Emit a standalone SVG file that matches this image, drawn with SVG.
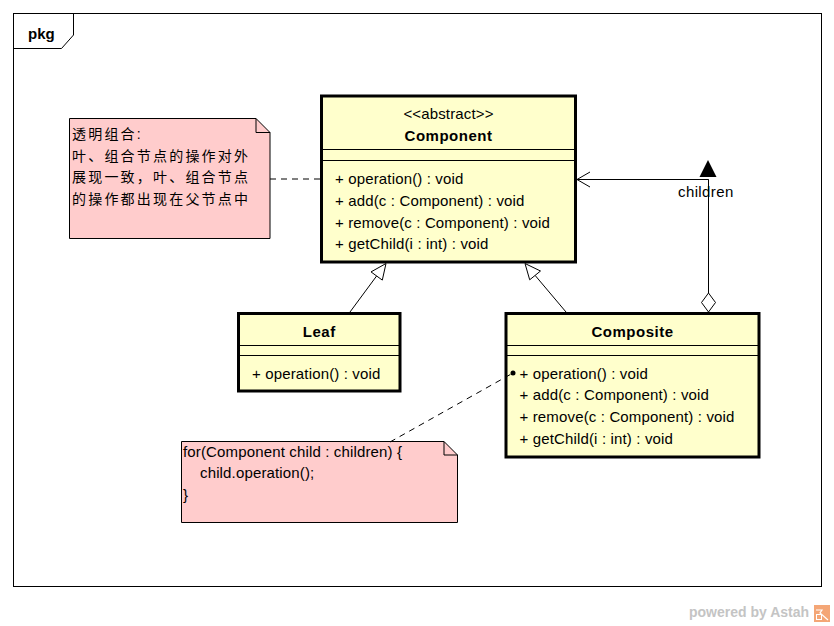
<svg xmlns="http://www.w3.org/2000/svg" width="834" height="626" viewBox="0 0 834 626">
<style>
  .cls { fill: #FFFFCC; stroke: #000; stroke-width: 3; }
  .sep { stroke: #000; stroke-width: 1; fill: none; }
  .note { fill: #FFCCCC; stroke: #000; stroke-width: 1; }
  .t { font-family: "Liberation Sans", Arial, sans-serif; font-size: 15px; fill: #000; letter-spacing: 0.15px; }
  .b { font-family: "Liberation Sans", Arial, sans-serif; font-size: 15px; font-weight: bold; fill: #000; letter-spacing: 0.5px; }
  .cjk { font-family: "Liberation Sans", "Noto Sans CJK SC", sans-serif; font-size: 14px; fill: #000; letter-spacing: 2.2px; }
  .line { stroke: #000; stroke-width: 1; fill: none; }
  .dash { stroke: #000; stroke-width: 1; fill: none; stroke-dasharray: 6 5; }
</style>
<rect width="834" height="626" fill="#fff"/>
<g id="frame">
  <rect x="13.5" y="13.5" width="808" height="573" fill="none" stroke="#000" stroke-width="1"/>
  <polyline points="13.5,48.5 61.5,48.5 73.5,35 73.5,13.5" fill="none" stroke="#000" stroke-width="1"/>
  <text x="28" y="38.5" class="b" style="letter-spacing:0">pkg</text>
</g>
<g id="note1">
  <polygon class="note" points="69.5,118.5 256,118.5 270,132.5 270,238.5 69.5,238.5"/>
  <polyline class="sep" points="256,118.5 256,132.5 270,132.5"/>
  <text class="cjk" x="72" y="138.5">透明组合:</text>
  <text class="cjk" x="72" y="160.5">叶、组合节点的操作对外</text>
  <text class="cjk" x="72" y="182">展现一致，叶、组合节点</text>
  <text class="cjk" x="72" y="203.5">的操作都出现在父节点中</text>
</g>
<g id="component">
  <rect class="cls" x="321.5" y="96" width="254" height="166"/>
  <line class="sep" x1="321.5" y1="149.5" x2="575.5" y2="149.5"/>
  <line class="sep" x1="321.5" y1="160.5" x2="575.5" y2="160.5"/>
  <text class="t" x="448.5" y="119" text-anchor="middle">&lt;&lt;abstract&gt;&gt;</text>
  <text class="b" x="448.5" y="140.5" text-anchor="middle">Component</text>
  <text class="t" x="335" y="184">+ operation() : void</text>
  <text class="t" x="335" y="205.8">+ add(c : Component) : void</text>
  <text class="t" x="335" y="227.6">+ remove(c : Component) : void</text>
  <text class="t" x="335" y="249.4">+ getChild(i : int) : void</text>
</g>
<g id="leaf">
  <rect class="cls" x="238.5" y="313.5" width="161.5" height="77.5"/>
  <line class="sep" x1="238.5" y1="345.5" x2="400" y2="345.5"/>
  <line class="sep" x1="238.5" y1="355.5" x2="400" y2="355.5"/>
  <text class="b" x="319.25" y="336.5" text-anchor="middle">Leaf</text>
  <text class="t" x="252" y="378.5">+ operation() : void</text>
</g>
<g id="composite">
  <rect class="cls" x="506" y="313.5" width="253" height="143.5"/>
  <line class="sep" x1="506" y1="345.5" x2="759" y2="345.5"/>
  <line class="sep" x1="506" y1="355.5" x2="759" y2="355.5"/>
  <text class="b" x="632.5" y="336.5" text-anchor="middle">Composite</text>
  <text class="t" x="519.5" y="378.5">+ operation() : void</text>
  <text class="t" x="519.5" y="400.3">+ add(c : Component) : void</text>
  <text class="t" x="519.5" y="422.1">+ remove(c : Component) : void</text>
  <text class="t" x="519.5" y="443.9">+ getChild(i : int) : void</text>
</g>
<g id="note2">
  <polygon class="note" points="181.5,441.5 444,441.5 457.5,455 457.5,522.5 181.5,522.5"/>
  <polyline class="sep" points="444,441.5 444,455 457.5,455"/>
  <text class="t" x="183" y="456.5">for(Component child : children) {</text>
  <text class="t" x="200" y="478.3">child.operation();</text>
  <text class="t" x="183" y="500">}</text>
</g>
<g id="connectors">
  <line class="dash" x1="270" y1="179" x2="321" y2="179"/>
  <line class="dash" x1="390" y1="442" x2="513" y2="373"/>
  <circle cx="513" cy="373" r="2.5" fill="#000"/>
  <line class="line" x1="350" y1="312" x2="376.6" y2="276"/>
  <polygon points="386,263.5 382.3,280.1 371,271.9" fill="#fff" stroke="#000" stroke-width="1"/>
  <line class="line" x1="566" y1="312" x2="535.1" y2="275.4"/>
  <polygon points="525,263.5 540.5,271 529.7,279.8" fill="#fff" stroke="#000" stroke-width="1"/>
  <polyline class="line" points="708.5,293 708.5,179.5 577,179.5"/>
  <polyline class="line" points="590,172 577,179.5 590,187"/>
  <polygon points="708.5,293 715.5,302.5 708.5,312 701.5,302.5" fill="#fff" stroke="#000" stroke-width="1"/>
  <polygon points="708,160 716.5,177 699.5,177" fill="#000"/>
  <text x="678" y="197" class="t" style="letter-spacing:0.4px">children</text>
  <line class="line" x1="708.5" y1="179.5" x2="708.5" y2="200"/>
</g>
<g id="watermark">
  <text x="689" y="617" font-family="Liberation Sans, Arial, sans-serif" font-size="14" font-weight="bold" fill="#c4c4c4">powered by Astah</text>
  <rect x="814" y="605" width="16" height="17" fill="#F4A676"/>
  <polyline points="816,610 822,610 820,613 828,620" fill="none" stroke="#fff" stroke-width="1.2"/>
  <rect x="816.5" y="614.5" width="5" height="5" fill="none" stroke="#fff" stroke-width="1"/>
</g>
</svg>
